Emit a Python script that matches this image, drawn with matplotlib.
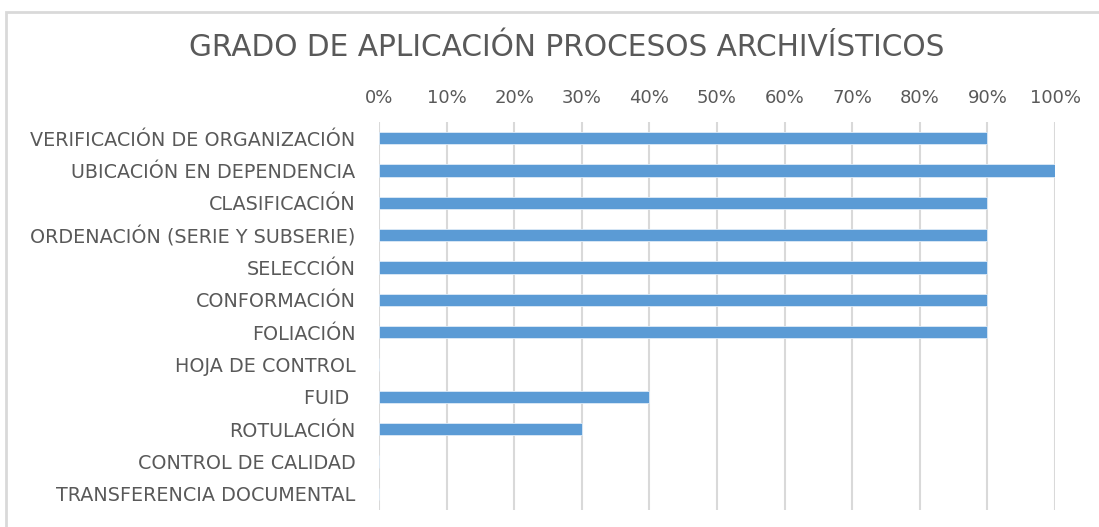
import matplotlib
matplotlib.use("Agg")
import matplotlib.pyplot as plt
from matplotlib.patches import Rectangle
from matplotlib.ticker import FuncFormatter, MultipleLocator

categories = [
    "VERIFICACIÓN DE ORGANIZACIÓN",
    "UBICACIÓN EN DEPENDENCIA",
    "CLASIFICACIÓN",
    "ORDENACIÓN (SERIE Y SUBSERIE)",
    "SELECCIÓN",
    "CONFORMACIÓN",
    "FOLIACIÓN",
    "HOJA DE CONTROL",
    "FUID ",
    "ROTULACIÓN",
    "CONTROL DE CALIDAD",
    "TRANSFERENCIA DOCUMENTAL",
]
values = [0.90, 1.00, 0.90, 0.90, 0.90, 0.90, 0.90, 0.0, 0.40, 0.30, 0.0, 0.0]
title = "GRADO DE APLICACIÓN PROCESOS ARCHIVÍSTICOS"

plt.rcParams["font.family"] = ["DejaVu Sans"]

W, H = 1099, 527
fig = plt.figure(figsize=(W / 100, H / 100), dpi=100)
fig.patch.set_facecolor("white")

# chart border
fig.add_artist(Rectangle((6 / W, -0.1), 1.2, 1 - 12 / H + 0.1, transform=fig.transFigure,
                         fill=False, edgecolor="#D9D9D9", linewidth=2.0))

left, right = 379, 1055
top, bottom = 122, 510
ax = fig.add_axes([left / W, 1 - bottom / H, (right - left) / W, (bottom - top) / H])

ypos = list(range(len(categories)))
ax.barh(ypos, values, height=0.38, color="#5B9BD5", edgecolor="#DEEBF7", linewidth=0.6, zorder=3)
ax.set_xlim(0, 1.0)
ax.set_ylim(len(categories) - 0.5, -0.5)
ax.set_yticks(ypos)
ax.set_yticklabels(categories)
ax.xaxis.set_major_locator(MultipleLocator(0.1))
ax.xaxis.set_major_formatter(FuncFormatter(lambda v, p: f"{round(v * 100):d}%"))
ax.xaxis.tick_top()
ax.grid(axis="x", color="#D9D9D9", linewidth=1.5, zorder=0)
for s in ax.spines.values():
    s.set_visible(False)
ax.tick_params(axis="both", length=0, colors="#595959")
ax.tick_params(axis="x", labelsize=13, pad=11)
ax.tick_params(axis="y", labelsize=13.8, pad=17)
for lbl in ax.get_xticklabels() + ax.get_yticklabels():
    lbl.set_color("#595959")

fig.text(567 / W, 1 - 47 / H, title, ha="center", va="center", fontsize=21.3,
         color="#595959", family="Liberation Sans Narrow")

fig.savefig("out.png", dpi=100)
